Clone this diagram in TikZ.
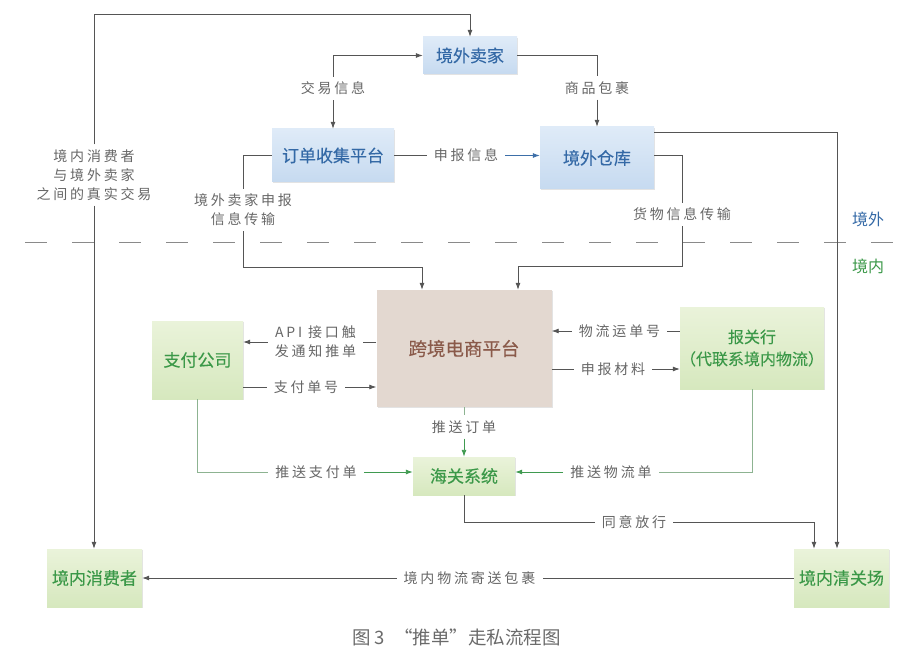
\documentclass[tikz,border=0pt]{standalone}
\usepackage{fontspec}
\setmainfont{Noto Sans CJK SC}
\newfontfamily\lblfont[LetterSpace=20]{Noto Sans CJK SC}
\newfontfamily\boxfont[FakeBold=0.25]{Noto Sans CJK SC}
\newfontfamily\capfont{Noto Sans CJK SC}
\usetikzlibrary{arrows.meta,shadows}
\definecolor{bluetop}{HTML}{DFEBF8}
\definecolor{bluebot}{HTML}{C6DAF0}
\definecolor{bluetxt}{HTML}{3469A6}
\definecolor{greentop}{HTML}{EAF3DA}
\definecolor{greenbot}{HTML}{D6E8BE}
\definecolor{greentxt}{HTML}{3B9848}
\definecolor{platfill}{HTML}{E3D8D0}
\definecolor{plattxt}{HTML}{8A5A4A}
\definecolor{linegray}{HTML}{555555}
\definecolor{lblgray}{HTML}{666666}
\definecolor{gline}{HTML}{8DB391}
\definecolor{garrow}{HTML}{3F9A50}
\definecolor{barrow}{HTML}{3D6FA8}
\definecolor{dashgray}{HTML}{8A8A8A}
\definecolor{capgray}{HTML}{6A6A6A}
\begin{document}
\begin{tikzpicture}[x=1pt,y=-1pt,
  box/.style={draw=none, inner sep=0pt, align=center,
    font=\boxfont\fontsize{17}{21}\selectfont,
    drop shadow={shadow xshift=1.2pt, shadow yshift=-1.2pt, opacity=0.22}},
  bluebox/.style={box, top color=bluetop, bottom color=bluebot, text=bluetxt},
  greenbox/.style={box, top color=greentop, bottom color=greenbot, text=greentxt},
  platbox/.style={box, fill=platfill, text=plattxt},
  lbl/.style={font=\lblfont\fontsize{14}{19}\selectfont, text=lblgray,
    inner xsep=7pt, inner ysep=5pt, align=center},
  ln/.style={draw=linegray, line width=0.8pt},
  arr/.style={ln, -{Latex[length=7pt,width=5pt]}},
  barr/.style={draw=barrow, line width=0.8pt, -{Latex[length=7pt,width=5pt]}},
  gln/.style={draw=gline, line width=0.9pt},
  garr/.style={draw=garrow, line width=0.9pt, -{Latex[length=7pt,width=5pt]}},
  region/.style={font=\capfont\fontsize{16}{19}\selectfont}
]
\useasboundingbox (0,0) rectangle (908,666);

% boxes
\node[bluebox, minimum width=94pt, minimum height=37pt] (seller) at (470,55.5) {境外卖家};
\node[bluebox, minimum width=122pt, minimum height=53pt] (order) at (333,155.5) {订单收集平台};
\node[bluebox, minimum width=114pt, minimum height=62pt] (wh) at (597,158) {境外仓库};
\node[platbox, minimum width=175pt, minimum height=117pt, font=\boxfont\fontsize{18.5}{22}\selectfont] (plat) at (464,348.5) {跨境电商平台};
\node[greenbox, minimum width=91pt, minimum height=78pt] (pay) at (197.5,360) {支付公司};
\node[greenbox, minimum width=102pt, minimum height=38pt] (cus) at (464,476) {海关系统};
\node[greenbox, minimum width=144pt, minimum height=82pt, font=\boxfont\fontsize{16}{22}\selectfont] (broker) at (752,348) {报关行\\（代联系境内物流）};
\node[greenbox, minimum width=95pt, minimum height=58pt] (con) at (94.5,578) {境内消费者};
\node[greenbox, minimum width=95pt, minimum height=58pt] (clr) at (841.5,578) {境内清关场};

% dashed border line
\draw[dashgray, line width=1.2pt, dash pattern=on 22pt off 25pt] (25,242.5) -- (899,242.5);
\node[region, text=bluetxt] (outside) at (868,219) {境外};
\node[region, text=greentxt] (inside) at (868,266) {境内};

% labels
\node[lbl] (lblreal) at (94,175) {境内消费者\\与境外卖家\\之间的真实交易};
\node[lbl] (lbljy) at (333,88.5) {交易信息};
\node[lbl] (lblsp) at (597,88) {商品包裹};
\node[lbl] (lblsb) at (466,155.5) {申报信息};
\node[lbl] (lblsbx) at (243,210) {境外卖家申报\\信息传输};
\node[lbl] (lblhw) at (682,214.5) {货物信息传输};
\node[lbl] (lblapi) at (315.5,342) {API 接口触\\发通知推单};
\node[lbl] (lblzf) at (306,387) {支付单号};
\node[lbl] (lbltsdd) at (464,427) {推送订单};
\node[lbl] (lbltszf) at (316,472) {推送支付单};
\node[lbl] (lbltswl) at (611,472) {推送物流单};
\node[lbl] (lblwl) at (619.5,331) {物流运单号};
\node[lbl] (lblsbcl) at (613,369) {申报材料};
\node[lbl] (lblty) at (634,522) {同意放行};
\node[lbl] (lbljn) at (469.5,578) {境内物流寄送包裹};

\coordinate (top) at (0,14);
\coordinate (c1) at (422,267);
\coordinate (c2) at (518,266);

% connectors
\draw[arr] (lblreal.north) -- (lblreal.north |- top) -| (seller.north);
\draw[arr] (lblreal.south) -- (lblreal.south |- con.north);

\draw[arr] (lbljy.north) |- (seller.west);
\draw[arr] (lbljy.south) -- (order.north);

\draw[ln] (seller.east) -| (lblsp.north);
\draw[arr] (lblsp.south) -- (wh.north);

\draw[ln] (order.east) -- (lblsb.west);
\draw[barr] (lblsb.east) -- (lblsb.east -| wh.west);

\draw[ln] (order.west) -| (lblsbx.north);
\draw[arr] (lblsbx.south) |- (c1) -- (c1 |- plat.north);

\draw[ln] ([yshift=3pt]wh.east) -| (lblhw.north);
\draw[arr] (lblhw.south) |- (c2) -- (c2 |- plat.north);

\draw[arr] ([yshift=-6pt]wh.north east) -| ([xshift=-4.5pt]clr.north);

\draw[ln] (lblapi.east -| plat.west) -- (lblapi.east);
\draw[arr] (lblapi.west) -- (lblapi.west -| pay.east);

\draw[ln] (lblzf.west -| pay.east) -- (lblzf.west);
\draw[arr] (lblzf.east) -- (lblzf.east -| plat.west);

\draw[ln] (lblwl.east -| broker.west) -- (lblwl.east);
\draw[arr] (lblwl.west) -- (lblwl.west -| plat.east);

\draw[ln] (lblsbcl.west -| plat.east) -- (lblsbcl.west);
\draw[arr] (lblsbcl.east) -- (lblsbcl.east -| broker.west);

\draw[gln] (plat.south) -- (lbltsdd.north);
\draw[garr] (lbltsdd.south) -- (cus.north);

\draw[gln] (pay.south) |- (lbltszf.west);
\draw[garr] (lbltszf.east) -- (lbltszf.east -| cus.west);

\draw[gln] (broker.south) |- (lbltswl.east);
\draw[garr] (lbltswl.west) -- (lbltswl.west -| cus.east);

\draw[ln] (cus.south) |- (lblty.west);
\draw[arr] (lblty.east) -| ([xshift=-27.5pt]clr.north);

\draw[ln] (clr.west) -- (lbljn.east);
\draw[arr] (lbljn.west) -- (con.east);

% caption
\node[font=\capfont\fontsize{18.5}{22}\selectfont, text=capgray] (caption) at (456.5,637) {图 3\enspace “推单”走私流程图};
\end{tikzpicture}
\end{document}
